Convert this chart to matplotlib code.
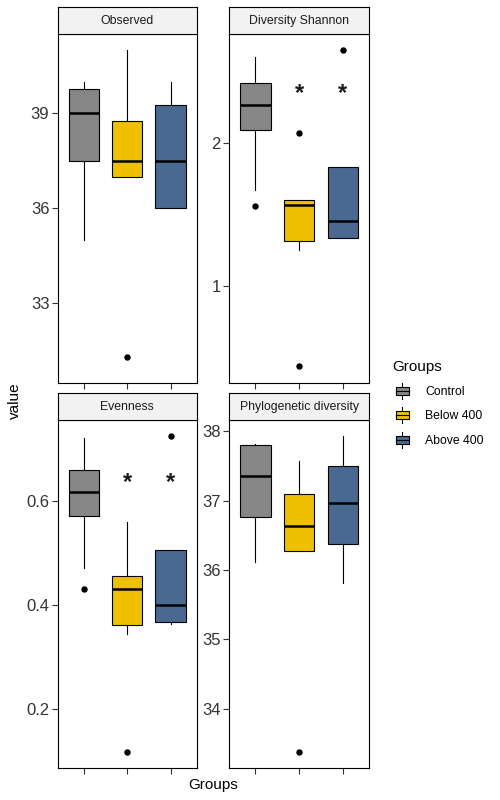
import numpy as np
import matplotlib
matplotlib.use("Agg")
import matplotlib.pyplot as plt
import matplotlib.transforms as mtransforms
from matplotlib.legend_handler import HandlerBase
from matplotlib.patches import Patch, Rectangle
from matplotlib.lines import Line2D

plt.rcParams['font.family'] = ['Liberation Sans', 'DejaVu Sans']

groups = ['Control', 'Below 400', 'Above 400']
colors = ['#868686', '#EFC000', '#4A6990']

# box stats (Control, Below 400, Above 400)
obs_whislo = [35.0, 37.0, 36.0]
obs_q1 = [37.5, 37.0, 36.0]
obs_med = [39.0, 37.5, 37.5]
obs_q3 = [39.75, 38.75, 39.25]
obs_whishi = [40.0, 41.0, 40.0]
obs_fliers = [[], [31.3], []]
obs_stars = [None, None, None]

sha_whislo = [1.67, 1.25, 1.33]
sha_q1 = [2.09, 1.31, 1.33]
sha_med = [2.26, 1.566, 1.45]
sha_q3 = [2.42, 1.597, 1.83]
sha_whishi = [2.597, 1.60, 1.83]
sha_fliers = [[1.555], [2.07, 0.436], [2.646]]
sha_stars = [None, 2.37, 2.37]

eve_whislo = [0.471, 0.344, 0.363]
eve_q1 = [0.571, 0.362, 0.367]
eve_med = [0.617, 0.430, 0.400]
eve_q3 = [0.659, 0.455, 0.506]
eve_whishi = [0.721, 0.560, 0.506]
eve_fliers = [[0.431], [0.117], [0.725]]
eve_stars = [None, 0.643, 0.643]

phy_whislo = [36.12, 36.27, 35.81]
phy_q1 = [36.76, 36.27, 36.37]
phy_med = [37.36, 36.64, 36.96]
phy_q3 = [37.80, 37.10, 37.50]
phy_whishi = [37.81, 37.57, 37.93]
phy_fliers = [[], [33.37], []]
phy_stars = [None, None, None]

panels = [
    ('Observed', obs_whislo, obs_q1, obs_med, obs_q3, obs_whishi, obs_fliers, obs_stars,
     (30.49, 41.5), [33, 36, 39], ['33', '36', '39']),
    ('Diversity Shannon', sha_whislo, sha_q1, sha_med, sha_q3, sha_whishi, sha_fliers, sha_stars,
     (0.32, 2.76), [1, 2], ['1', '2']),
    ('Evenness', eve_whislo, eve_q1, eve_med, eve_q3, eve_whishi, eve_fliers, eve_stars,
     (0.087, 0.756), [0.2, 0.4, 0.6], ['0.2', '0.4', '0.6']),
    ('Phylogenetic diversity', phy_whislo, phy_q1, phy_med, phy_q3, phy_whishi, phy_fliers, phy_stars,
     (33.15, 38.163), [34, 35, 36, 37, 38], ['34', '35', '36', '37', '38']),
]

W, H = 500, 800
fig = plt.figure(figsize=(5, 8), dpi=100)

# panel boxes in pixels
cols = [(57.7, 196.7), (229.3, 369.0)]
rows = [(7.3, 34.0, 382.7), (393.3, 420.0, 767.7)]


def px_axes(x0, x1, y0, y1):
    return fig.add_axes([x0 / W, 1 - y1 / H, (x1 - x0) / W, (y1 - y0) / H])


for i, p in enumerate(panels):
    title, lo, q1, med, q3, hi, fl, stars, ylim, yt, ytl = p
    cx = cols[i % 2]
    ry = rows[i // 2]
    ax = px_axes(cx[0], cx[1], ry[1], ry[2])

    stats = []
    for k in range(3):
        stats.append(dict(med=med[k], q1=q1[k], q3=q3[k], whislo=lo[k], whishi=hi[k],
                          fliers=fl[k]))
    bp = ax.bxp(stats, positions=[1, 2, 3], widths=0.7, showcaps=False, patch_artist=True,
                boxprops=dict(linewidth=0.8, edgecolor='black'),
                whiskerprops=dict(linewidth=0.8, color='black'),
                medianprops=dict(linewidth=1.8, color='black'),
                flierprops=dict(marker='o', markersize=3.6, markerfacecolor='black',
                                markeredgecolor='black'))
    for patch, c in zip(bp['boxes'], colors):
        patch.set_facecolor(c)

    # asterisk glyph sits high in its text box, nudge it down a little
    star_tr = ax.transData + mtransforms.ScaledTranslation(0, -3 / 72, fig.dpi_scale_trans)
    for k, s in enumerate(stars):
        if s is not None:
            ax.text(k + 1, s, '*', ha='center', va='center', fontsize=17, fontweight='bold',
                    color='#1a1a1a', transform=star_tr)

    ax.set_xlim(0.4, 3.6)
    ax.set_ylim(*ylim)
    ax.set_xticks([1, 2, 3])
    ax.set_xticklabels([])
    ax.set_yticks(yt)
    ax.set_yticklabels(ytl)
    ax.tick_params(axis='both', direction='out', length=4, width=0.8, color='#333333',
                   labelsize=12, labelcolor='#333333', pad=2)
    for sp in ax.spines.values():
        sp.set_linewidth(0.8)
        sp.set_color('black')

    sx = px_axes(cx[0], cx[1], ry[0], ry[1])
    sx.set_facecolor('#F2F2F2')
    sx.set_xticks([])
    sx.set_yticks([])
    for sp in sx.spines.values():
        sp.set_linewidth(0.8)
        sp.set_color('black')
    sx.text(0.5, 0.5, title, ha='center', va='center', fontsize=8.8, color='#1a1a1a',
            transform=sx.transAxes)

fig.text(15 / W, 1 - 401 / H, 'value', rotation=90, ha='center', va='center', fontsize=11)
fig.text(213 / W, 1 - 785 / H, 'Groups', ha='center', va='center', fontsize=11)


class BoxKey(HandlerBase):
    def create_artists(self, legend, orig_handle, xdescent, ydescent, width, height,
                       fontsize, trans):
        x0 = -xdescent
        y0 = -ydescent
        cx = x0 + width / 2
        cy = y0 + height / 2
        bw = width * 0.62
        bh = height * 0.5
        whisk = Line2D([cx, cx], [y0, y0 + height], color='black', lw=0.8, transform=trans)
        box = Rectangle((cx - bw / 2, cy - bh / 2), bw, bh, facecolor=orig_handle.get_facecolor(),
                        edgecolor='black', lw=0.8, transform=trans)
        mid = Line2D([cx - bw / 2, cx + bw / 2], [cy, cy], color='black', lw=0.8, transform=trans)
        return [whisk, box, mid]


handles = [Patch(facecolor=c, edgecolor='black', label=g) for g, c in zip(groups, colors)]
fig.legend(handles=handles, handler_map={Patch: BoxKey()}, loc='upper left',
           bbox_to_anchor=(392 / W, 1 - 360 / H), frameon=False, title='Groups',
           title_fontsize=11, fontsize=8.8, alignment='left', handlelength=1.7,
           handleheight=1.6, labelspacing=0.72, handletextpad=1.0, borderaxespad=0,
           borderpad=0)

fig.savefig('out.png', dpi=100)
